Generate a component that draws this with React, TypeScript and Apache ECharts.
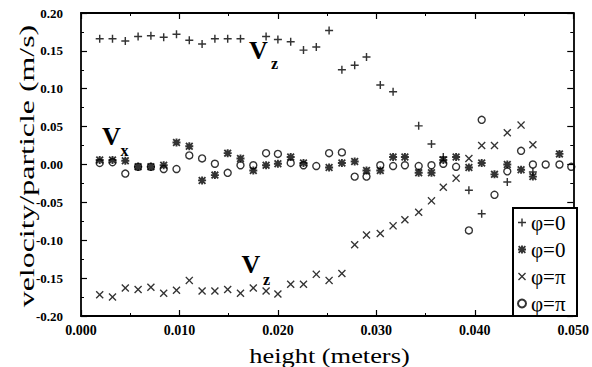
import React, { useEffect, useRef } from "react";
import * as echarts from "echarts";

// heights (m) at which particle velocities were sampled
const heights = [
  0.0019, 0.0032, 0.0045, 0.0058, 0.0071, 0.0084, 0.0097, 0.011, 0.0123, 0.0136,
  0.0149, 0.0162, 0.0175, 0.0188, 0.02, 0.0213, 0.0226, 0.0239, 0.0252, 0.0265,
  0.0278, 0.029, 0.0304, 0.0317, 0.0329, 0.0343, 0.0356, 0.0368, 0.0381, 0.0394,
  0.0407, 0.042, 0.0433, 0.0447, 0.0459, 0.0472, 0.0486, 0.0498,
];

// Vz, phi = 0  (+)
const vzPhi0 = [
  0.166, 0.166, 0.163, 0.169, 0.170, 0.168, 0.172, 0.164, 0.159, 0.166,
  0.166, 0.166, null, 0.169, 0.165, 0.162, 0.151, 0.155, 0.177, 0.125,
  0.131, 0.142, 0.105, 0.096, null, 0.051, 0.027, 0.010, null, -0.034,
  -0.065, null, -0.023, null, -0.010, null, null, null,
];

// Vx, phi = 0  (*)
const vxPhi0 = [
  0.006, 0.006, 0.005, -0.003, -0.003, -0.001, 0.029, 0.024, -0.021, -0.014,
  0.015, 0.008, -0.008, -0.001, 0.001, 0.010, 0.002, null, -0.004, 0.002,
  0.004, -0.008, -0.008, 0.010, 0.010, -0.011, -0.011, 0.006, 0.010, -0.004,
  0.002, -0.013, 0.0, -0.007, -0.016, null, 0.014, null,
];

// Vz, phi = pi  (x)
const vzPhiPi = [
  -0.172, -0.175, -0.163, -0.165, -0.162, -0.170, -0.166, -0.153, -0.167, -0.167,
  -0.165, -0.170, -0.163, -0.167, -0.171, -0.158, -0.158, -0.145, -0.153, -0.144,
  -0.106, -0.093, -0.091, -0.081, -0.073, -0.063, -0.048, -0.030, -0.018, 0.008,
  0.025, 0.025, 0.042, 0.052, 0.026, null, null, null,
];

// Vx, phi = pi  (o)
const vxPhiPi = [
  0.002, 0.003, -0.012, -0.003, -0.003, -0.006, -0.006, 0.012, 0.008, 0.001,
  -0.011, -0.001, -0.001, 0.015, 0.014, 0.002, -0.001, -0.002, 0.015, 0.016,
  -0.016, -0.016, -0.001, -0.002, -0.001, -0.002, -0.001, 0.001, -0.003, -0.087,
  0.059, -0.040, -0.009, 0.018, 0.0, 0.0, 0.0, -0.003,
];

const legendLabels: Record<string, string> = {
  vzPhi0: "φ=0",
  vxPhi0: "φ=0",
  vzPhiPi: "φ=π",
  vxPhiPi: "φ=π",
};

const SERIF = "'Liberation Serif', 'Times New Roman', Times, serif";

const PLUS = "path://M4.1,0H5.9V4.1H10V5.9H5.9V10H4.1V5.9H0V4.1H4.1Z";
const CROSS =
  "path://M0,1.2L1.2,0L5,3.8L8.8,0L10,1.2L6.2,5L10,8.8L8.8,10L5,6.2L1.2,10L0,8.8L3.8,5Z";
const STAR =
  "path://M3.8,0H6.2V3.8H10V6.2H6.2V10H3.8V6.2H0V3.8H3.8Z M0,1.6L1.6,0L5,3.4L8.4,0L10,1.6L6.6,5L10,8.4L8.4,10L5,6.6L1.6,10L0,8.4L3.4,5Z";

function pairs(vals: (number | null)[]) {
  const out: [number, number][] = [];
  vals.forEach((v, i) => {
    if (v !== null) out.push([heights[i], v]);
  });
  return out;
}

export default function App() {
  const ref = useRef<HTMLDivElement>(null);
  useEffect(() => {
    if (!ref.current) return;
    const chart = echarts.init(ref.current, undefined, { renderer: "svg" });
    const axisLine = { show: true, onZero: false, lineStyle: { color: "#000", width: 1.8 } };
    const axisTick = { show: true, inside: true, length: 6, lineStyle: { color: "#000", width: 1.2 } };
    const minorTick = { show: true, splitNumber: 2, length: 3, lineStyle: { color: "#000", width: 1 } };
    const xBase = {
      type: "value" as const,
      min: 0,
      max: 0.05,
      interval: 0.01,
      axisLine,
      axisTick,
      minorTick,
      splitLine: { show: false },
      minorSplitLine: { show: false },
    };
    const yBase = {
      type: "value" as const,
      min: -0.2,
      max: 0.2,
      interval: 0.05,
      axisLine,
      axisTick,
      minorTick,
      splitLine: { show: false },
      minorSplitLine: { show: false },
    };
    const option: any = {
      animation: false,
      backgroundColor: "#fff",
      grid: { left: 81, right: 14, top: 13, bottom: 51 },
      xAxis: [
        {
          ...xBase,
          position: "bottom",
          axisLabel: {
            show: true,
            margin: 7,
            color: "#000",
            fontFamily: SERIF,
            fontWeight: "bold",
            fontSize: 14,
            formatter: (v: number) => v.toFixed(3),
          },
        },
        { ...xBase, position: "top", axisLabel: { show: false } },
      ],
      yAxis: [
        {
          ...yBase,
          position: "left",
          axisLabel: {
            show: true,
            margin: 18,
            color: "#000",
            fontFamily: SERIF,
            fontWeight: "bold",
            fontSize: 13,
            formatter: (v: number) => v.toFixed(2),
          },
        },
        { ...yBase, position: "right", axisLabel: { show: false } },
      ],
      legend: {
        orient: "vertical",
        left: 517,
        top: 212,
        padding: 0,
        itemWidth: 8,
        itemHeight: 8,
        itemGap: 6,
        z: 10,
        textStyle: { fontFamily: SERIF, fontSize: 21, color: "#000" },
        formatter: (name: string) => legendLabels[name] || name,
        data: ["vzPhi0", "vxPhi0", "vzPhiPi", "vxPhiPi"],
      },
      graphic: [
        {
          type: "rect",
          z: 5,
          shape: { x: 513, y: 208, width: 64, height: 108 },
          style: { fill: "#fff", stroke: "#000", lineWidth: 2 },
        },
        {
          type: "text",
          x: 329.5,
          y: 355,
          scaleX: 1.2,
          style: {
            text: "height (meters)",
            fontFamily: SERIF,
            fontSize: 22,
            fill: "#000",
            align: "center",
            verticalAlign: "middle",
          },
        },
        {
          type: "text",
          x: 27,
          y: 166,
          rotation: Math.PI / 2,
          scaleX: 1.45,
          style: {
            text: "velocity/particle (m/s)",
            fontFamily: SERIF,
            fontSize: 22,
            fill: "#000",
            align: "center",
            verticalAlign: "middle",
          },
        },
        {
          type: "text",
          x: 258.5,
          y: 50.5,
          style: { text: "V", fontFamily: SERIF, fontWeight: "bold", fontSize: 26, fill: "#000", align: "center", verticalAlign: "middle" },
        },
        {
          type: "text",
          x: 274.5,
          y: 63,
          style: { text: "z", fontFamily: SERIF, fontWeight: "bold", fontSize: 16, fill: "#000", align: "center", verticalAlign: "middle" },
        },
        {
          type: "text",
          x: 111.5,
          y: 136.5,
          style: { text: "V", fontFamily: SERIF, fontWeight: "bold", fontSize: 26, fill: "#000", align: "center", verticalAlign: "middle" },
        },
        {
          type: "text",
          x: 124.5,
          y: 150,
          style: { text: "x", fontFamily: SERIF, fontWeight: "bold", fontSize: 16, fill: "#000", align: "center", verticalAlign: "middle" },
        },
        {
          type: "text",
          x: 251,
          y: 264,
          style: { text: "V", fontFamily: SERIF, fontWeight: "bold", fontSize: 26, fill: "#000", align: "center", verticalAlign: "middle" },
        },
        {
          type: "text",
          x: 266.5,
          y: 279.5,
          style: { text: "z", fontFamily: SERIF, fontWeight: "bold", fontSize: 16, fill: "#000", align: "center", verticalAlign: "middle" },
        },
      ],
      series: [
        {
          name: "vzPhi0",
          type: "scatter",
          symbol: PLUS,
          symbolSize: 8,
          itemStyle: { color: "#000" },
          data: pairs(vzPhi0),
        },
        {
          name: "vxPhi0",
          type: "scatter",
          symbol: STAR,
          symbolSize: 8,
          itemStyle: { color: "#000" },
          data: pairs(vxPhi0),
        },
        {
          name: "vzPhiPi",
          type: "scatter",
          symbol: CROSS,
          symbolSize: 8,
          itemStyle: { color: "#000" },
          data: pairs(vzPhiPi),
        },
        {
          name: "vxPhiPi",
          type: "scatter",
          symbol: "circle",
          symbolSize: 7,
          itemStyle: { color: "rgba(0,0,0,0)", borderColor: "#000", borderWidth: 1.4 },
          data: pairs(vxPhiPi),
        },
      ],
    };
    chart.setOption(option);
    return () => chart.dispose();
  }, []);
  return (
    <div
      ref={ref}
      style={{ position: "fixed", left: 0, top: 0, width: 592, height: 367 }}
    />
  );
}
